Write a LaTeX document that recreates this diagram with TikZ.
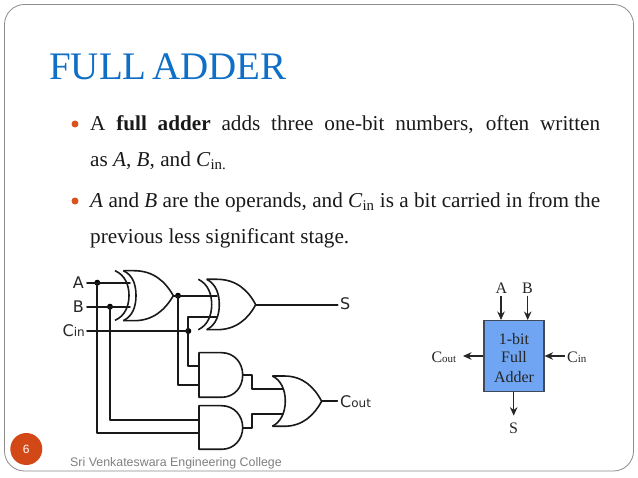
\documentclass[tikz,border=0pt]{standalone}
\usepackage{fontspec}
\setmainfont{Liberation Serif}
\setsansfont{Liberation Sans}
\newfontfamily\gatefont{DejaVu Sans}
\usetikzlibrary{arrows.meta}
\definecolor{titleblue}{HTML}{0F6FC6}
\definecolor{bulletorange}{HTML}{D9531E}
\definecolor{badge}{HTML}{D34817}
\definecolor{frameg}{HTML}{8C8C8C}
\definecolor{footg}{HTML}{7F7F7F}
\definecolor{blockblue}{HTML}{6FA5F2}
\definecolor{blockedge}{HTML}{3F4A5A}
\tikzset{
  wire/.style={line width=1.8pt,black!90,line cap=round,line join=round},
  gate/.style={line width=1.6pt,black!90,line join=round},
  jdot/.style={circle,fill=black,inner sep=0pt,minimum size=6pt},
  glabel/.style={font=\gatefont\fontsize{16}{16}\selectfont,anchor=west,inner sep=0pt,text=black!85},
  bodyline/.style={font=\fontsize{21.2}{21.2}\selectfont,anchor=base west,inner sep=0pt,text=black!90},
  bulletdot/.style={circle,fill=bulletorange,inner sep=0pt,minimum size=7pt},
  blocktxt/.style={font=\fontsize{16}{16}\selectfont,inner sep=0pt,text=black!85},
  blockarrow/.style={line width=1.4pt,black!85,-{Stealth[length=8.5pt,width=7.5pt]}}
}
\begin{document}
\begin{tikzpicture}[x=1pt,y=-1pt]
\useasboundingbox (0,0) rectangle (638,478);
\draw[frameg,line width=0.8pt,rounded corners=20pt] (4.5,4.5) rectangle (633.5,471);
% title
\node[anchor=base west,inner sep=0pt,text=titleblue,font=\fontsize{39}{39}\selectfont] (title) at (49,80) {FULL\hspace{-4pt} ADDER};
% bullets
\node[bulletdot] (b1) at (75,124) {};
\node[bulletdot] (b2) at (75,201) {};
\node[bodyline] (l1) at (90,131) {\makebox[510pt][s]{A \textbf{full adder} adds three one-bit numbers, often written}};
\node[bodyline] (l2) at (90,166.7) {as \textit{A}, \textit{B}, and \textit{C}\textsubscript{in.}};
\node[bodyline] (l3) at (90,207.7) {\makebox[510pt][s]{\textit{A} and \textit{B} are the operands, and \textit{C}\textsubscript{in} is a bit carried in from the}};
\node[bodyline] (l4) at (90,243.3) {previous less significant stage.};
% circuit labels
\node[glabel,anchor=east] (la) at (84,283) {A};
\node[glabel,anchor=east] (lb) at (84,307) {B};
\node[glabel,anchor=east] (lc) at (85,331) {C\fontsize{12}{12}\selectfont in};
\node[glabel] (ls) at (340,304) {S};
\node[glabel] (lco) at (340,402) {C\fontsize{12}{12}\selectfont out};
% junctions
\coordinate (ia) at (87,282.7);
\coordinate (ib) at (87,306.7);
\coordinate (ic) at (87,331);
\node[jdot] (da) at (97.3,282.7) {};
\node[jdot] (db) at (110,306.7) {};
\node[jdot] (dx) at (178,295.7) {};
\node[jdot] (dc) at (188.3,331) {};
% xor 1
\draw[gate] (115,270.7) .. controls (125,275) and (129,285) .. (129,295.5) .. controls (129,306) and (125,316) .. (115,320.3);
\draw[gate] (123.3,270.7) .. controls (133,275) and (136,285) .. (136,295.5) .. controls (136,306) and (133,316) .. (123.3,320.7);
\draw[gate] (123.3,270.7) -- (134,270.7) .. controls (153,270.7) and (165,281) .. (173.3,295.7) .. controls (165,310) and (153,320.7) .. (134,320.7) -- (123.3,320.7);
% xor 2
\draw[gate] (198.3,279.3) .. controls (208,284) and (211.7,294) .. (211.7,304.5) .. controls (211.7,315) and (208,325) .. (198.3,329.7);
\draw[gate] (206.7,279.3) .. controls (216,284) and (219.3,294) .. (219.3,304.5) .. controls (219.3,315) and (216,325) .. (206.7,329.7);
\draw[gate] (206.7,279.3) -- (217,279.3) .. controls (236,279.3) and (248,290) .. (255.7,304.7) .. controls (248,319) and (236,329.7) .. (217,329.7) -- (206.7,329.7);
% and 1
\draw[gate] (199,352.7) -- (221.7,352.7) .. controls (234,352.7) and (242.7,362.5) .. (242.7,375) .. controls (242.7,387.5) and (234,397.3) .. (221.7,397.3) -- (199,397.3) -- cycle;
% and 2
\draw[gate] (199,405.7) -- (221.7,405.7) .. controls (234,405.7) and (242.7,415.5) .. (242.7,427.5) .. controls (242.7,439.5) and (234,449.3) .. (221.7,449.3) -- (199,449.3) -- cycle;
% or
\draw[gate] (272.3,376) .. controls (281,380) and (285.3,390) .. (285.3,401) .. controls (285.3,412) and (281,422) .. (272.3,426.3);
\draw[gate] (272.3,376) -- (284,376) .. controls (303,376) and (314,387) .. (321.7,401.3) .. controls (314,415) and (303,426.3) .. (284,426.3) -- (272.3,426.3);
% wires
\coordinate (xa) at (130,282.7);
\coordinate (xb) at (130,306.7);
\coordinate (x1o) at (173.3,295.7);
\coordinate (x2a) at (217,295.7);
\coordinate (x2b) at (217,316.7);
\coordinate (x2o) at (255.7,304.7);
\coordinate (so) at (337.7,304.7);
\coordinate (a1a) at (199,366);
\coordinate (a1b) at (199,385.3);
\coordinate (a2a) at (199,420.3);
\coordinate (a2b) at (199,433.3);
\coordinate (a1o) at (242.7,374.7);
\coordinate (a2o) at (242.7,428.3);
\coordinate (ora) at (283,389);
\coordinate (orb) at (283,414);
\coordinate (oro) at (321.7,401.3);
\coordinate (co) at (337.3,401.3);
\draw[wire] (ia) -- (da.center) -- (xa);
\draw[wire] (ib) -- (db.center) -- (xb);
\draw[wire] (ic) -- (dc.center);
\draw[wire] (x1o) -- (dx.center) -- (x2a);
\draw[wire] (dc.center) |- (x2b);
\draw[wire] (dc.center) |- (a1a);
\draw[wire] (dx.center) |- (a1b);
\draw[wire] (db.center) |- (a2a);
\draw[wire] (da.center) |- (a2b);
\draw[wire] (x2o) -- (so);
\draw[wire] (a1o) -- (251.7,374.7) -- (251.7,389) -- (ora);
\draw[wire] (a2o) -- (251.7,428.3) -- (251.7,414) -- (orb);
\draw[wire] (oro) -- (co);
% block
\node[draw=blockedge,line width=1.2pt,fill=blockblue,minimum width=60pt,minimum height=71pt,inner sep=0pt,outer sep=0pt] (fa) at (514,356.2) {};
\node[blocktxt] (t1) at (514,339) {1-bit};
\node[blocktxt] (t2) at (514,357.5) {Full};
\node[blocktxt] (t3) at (514,377) {Adder};
\node[blocktxt] (ba) at (501.5,288) {A};
\node[blocktxt] (bb) at (527.5,288) {B};
\node[blocktxt] (bs) at (513.5,428) {S};
\node[blocktxt,anchor=east] (bco) at (456.5,357) {C\fontsize{11}{11}\selectfont out};
\node[blocktxt,anchor=west] (bci) at (567,357) {C\fontsize{11}{11}\selectfont in};
\coordinate (pa) at (501,295.7);
\coordinate (pb) at (527.7,295.7);
\coordinate (pc) at (565,356);
\coordinate (po) at (463,356);
\coordinate (ps) at (513.7,415.7);
\draw[blockarrow] (pa) -- (501,320);
\draw[blockarrow] (pb) -- (527.7,320);
\draw[blockarrow] (pc) -- (544.6,356);
\draw[blockarrow] (483.4,356) -- (po);
\draw[blockarrow] (513.7,392) -- (ps);
% footer
\node[circle,fill=badge,minimum size=32pt,inner sep=0pt,text=white,font=\sffamily\fontsize{12}{12}\selectfont] (num) at (26.3,449) {6};
\node[anchor=base west,inner sep=0pt,text=footg,font=\sffamily\fontsize{12.4}{12.4}\selectfont] (foot) at (70,467) {Sri Venkateswara Engineering College};
\end{tikzpicture}
\end{document}
